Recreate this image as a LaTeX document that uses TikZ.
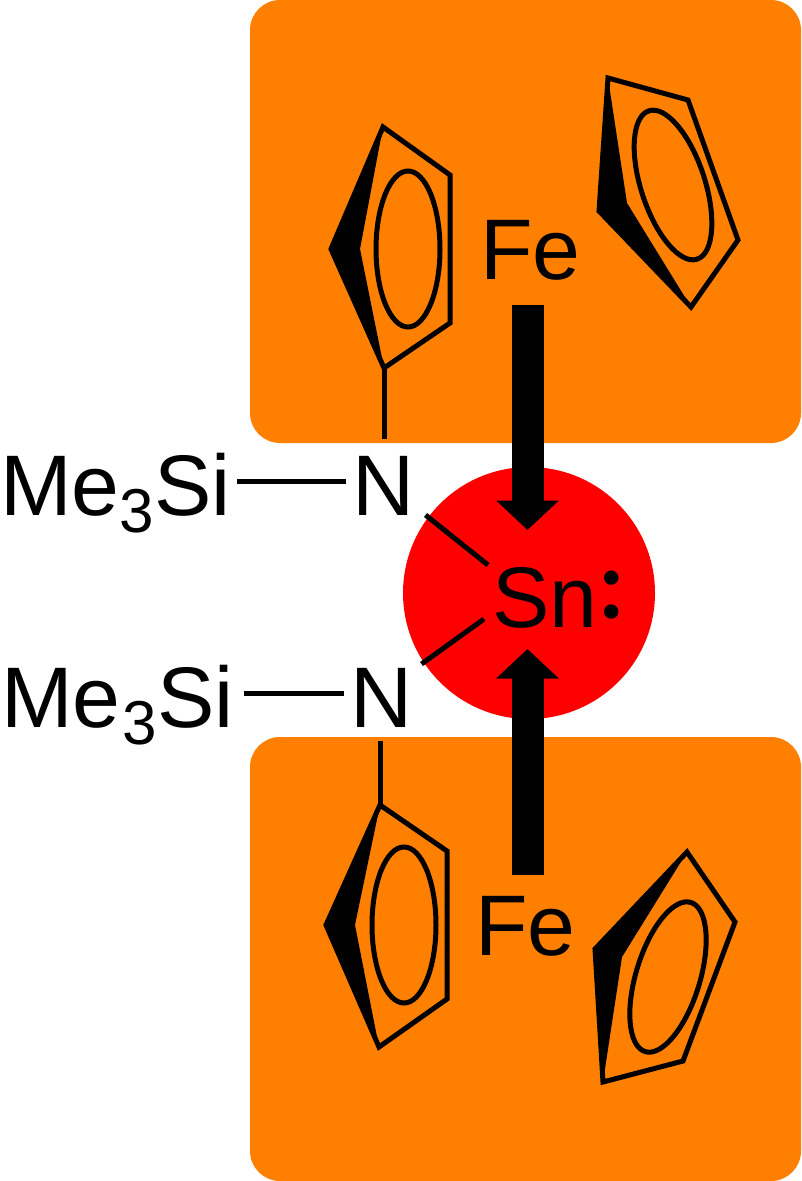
\documentclass[tikz,border=0pt]{standalone}
\usepackage{fontspec}
\setmainfont{Liberation Sans}
\newfontfamily\colonfont{Lato}
\usetikzlibrary{arrows.meta}
\definecolor{boxorange}{RGB}{255,128,0}
\tikzset{
  bond/.style={line width=5pt},
  ringline/.style={line width=5pt,line join=miter},
  label/.style={anchor=base west,inner sep=0pt,font=\fontsize{86}{86}\selectfont},
  donor/.style={line width=32pt,-{Triangle[width=61pt,length=29.5pt]}},
  unit/.style={fill=boxorange,rounded corners=30pt}
}
\newcommand{\subthree}{\raisebox{-17pt}{\fontsize{62}{62}\selectfont 3}}
\newcommand{\lonepair}{\kern2pt\raisebox{9pt}{\fontsize{95}{95}\selectfont\colonfont\bfseries :}}
\begin{document}
\begin{tikzpicture}[x=1pt,y=-1pt]
  \useasboundingbox (0,0) rectangle (801,1181);
  \fill[unit] (250,0) rectangle (801,443);
  \fill[unit] (250,737) rectangle (801,1181);
  \fill[red] (529,593) circle (126pt);
  % upper ferrocene
  \coordinate (capa) at (384,368);
  \draw[ringline] (383,127) -- (450,175) -- (450,323) -- (capa) -- (331,249) -- cycle;
  \fill (383,127) -- (331,249) -- (384,368) -- (360,249) -- cycle;
  \draw[ringline] (408,249) ellipse [x radius=32pt,y radius=78pt];
  \draw[ringline] (608,78) -- (688,100) -- (738,240) -- (691,307) -- (599,211) -- cycle;
  \fill (608,78) -- (599,211) -- (691,307) -- (627,203) -- cycle;
  \draw[ringline] (673,185) ellipse [x radius=32pt,y radius=78pt,rotate=18];
  % lower ferrocene
  \coordinate (capb) at (380,805);
  \draw[ringline] (capb) -- (447,851) -- (447,999) -- (379,1047) -- (326,925) -- cycle;
  \fill (capb) -- (326,925) -- (379,1047) -- (355,925) -- cycle;
  \draw[ringline] (404,925) ellipse [x radius=32pt,y radius=78pt];
  \draw[ringline] (687,852) -- (735,922) -- (683,1061) -- (603,1082) -- (595,949) -- cycle;
  \fill (687,852) -- (595,949) -- (603,1082) -- (622,957) -- cycle;
  \draw[ringline] (668,977) ellipse [x radius=32pt,y radius=78pt,rotate=-17];
  % labels
  \node[label] (fea) at (480,279) {Fe};
  \node[label] (feb) at (475,955) {Fe};
  \node[label] (sn) at (492,627) {Sn\lonepair};
  \node[label] (na) at (352.5,515) {N};
  \node[label] (nb) at (350.5,727) {N};
  \node[label] (mea) at (0,515) {Me\subthree Si};
  \node[label] (meb) at (1,727) {Me\kern2pt\subthree Si};
  % bonds
  \draw[bond] (capa) -- ([shift={(31.5,-76)}]na.base west);
  \draw[bond] (capb) -- ([shift={(29.5,14)}]nb.base west);
  \draw[bond] ([shift={(6,-34)}]mea.base east) -- ([shift={(-7,-34)}]na.base west);
  \draw[bond] ([shift={(10,-34)}]meb.base east) -- ([shift={(-7,-34)}]nb.base west);
  \draw[bond] ([shift={(73,0)}]na.base west) -- ([shift={(-4,-62)}]sn.base west);
  \draw[bond] ([shift={(71,-63)}]nb.base west) -- ([shift={(-8,-8)}]sn.base west);
  % donor arrows
  \coordinate (tipa) at (527.5,530);
  \coordinate (tipb) at (527.5,649);
  \draw[donor] ([shift={(47.5,26)}]fea.base west) -- (tipa);
  \draw[donor] ([shift={(52.5,-80)}]feb.base west) -- (tipb);
\end{tikzpicture}
\end{document}
